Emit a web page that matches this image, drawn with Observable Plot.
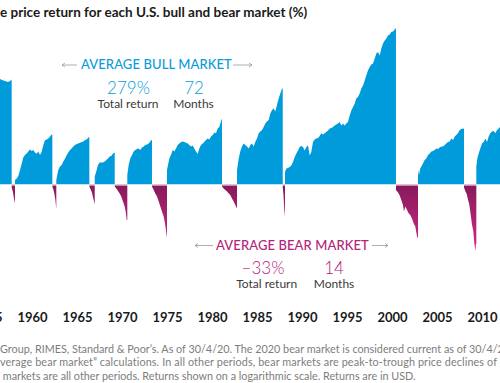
<!DOCTYPE html>
<html><head><meta charset="utf-8">
<script src="https://cdn.jsdelivr.net/npm/d3@7"></script>
<script src="https://cdn.jsdelivr.net/npm/@observablehq/plot@0.6"></script>
<style>
html,body{margin:0;padding:0;background:#fff;}
body{width:500px;height:383px;overflow:hidden;position:relative;font-family:Lato,"Open Sans",sans-serif;}
#title{position:absolute;left:0;top:5px;font-weight:700;font-size:13.5px;line-height:15px;color:#1a1a1a;white-space:nowrap;}
#chart{position:absolute;left:-20px;top:26px;width:520px;}
.ann{position:absolute;white-space:nowrap;transform:translate(-50%,-50%);line-height:1;}
.cap{font-size:13px;font-weight:500;letter-spacing:0.1px;}
.big{font-size:17px;font-weight:300;}
.sub{font-size:12px;color:#3a3a3a;}
.bull{color:#0a9bd9;}
.bear{color:#b3237a;}
#arrows{position:absolute;left:0;top:0;pointer-events:none;}
#notes{position:absolute;left:0;top:342px;font-size:10.8px;color:#7d7d7d;line-height:13.3px;white-space:nowrap;}
#notes .l2{letter-spacing:0.12px;}
</style></head><body>
<div id="title">e price return for each U.S. bull and bear market (%)</div>
<div id="chart"></div>
<div class="ann bull cap" style="left:156.5px;top:64px">AVERAGE BULL MARKET</div>
<div class="ann bull big" style="left:128.5px;top:86.5px">279%</div>
<div class="ann bull big" style="left:194px;top:86.5px">72</div>
<div class="ann sub" style="left:128px;top:104px">Total return</div>
<div class="ann sub" style="left:193.5px;top:104px">Months</div>
<div class="ann bear cap" style="left:292.5px;top:245px">AVERAGE BEAR MARKET</div>
<div class="ann bear big" style="left:263px;top:266.5px">–33%</div>
<div class="ann bear big" style="left:334px;top:266.5px">14</div>
<div class="ann sub" style="left:266.7px;top:284px">Total return</div>
<div class="ann sub" style="left:334px;top:284px">Months</div>
<svg id="arrows" width="500" height="383">
  <g stroke="#9a9a9a" stroke-width="0.8" fill="none">
    <line x1="62" y1="65" x2="77" y2="65"/><polyline points="65,63 62,65 65,67"/>
    <line x1="233" y1="65" x2="252" y2="65"/><polyline points="249,63 252,65 249,67"/>
    <line x1="195" y1="245.5" x2="213" y2="245.5"/><polyline points="198,243.5 195,245.5 198,247.5"/>
    <line x1="372" y1="245.5" x2="388" y2="245.5"/><polyline points="385,243.5 388,245.5 385,247.5"/>
  </g>
</svg>
<div id="notes">
<div>Group, RIMES, Standard &amp; Poor’s. As of 30/4/20. The 2020 bear market is considered current as of 30/4/20</div>
<div class="l2">verage bear market” calculations. In all other periods, bear markets are peak-to-trough price declines of</div>
<div>&nbsp;markets are all other periods. Returns shown on a logarithmic scale. Returns are in USD.</div>
</div>
<script>
// [year, cumulative price return %]
const bull_1949_1956 = [[1956.2,272],[1956.44,274],[1956.67,269],[1957.0,265],[1957.33,260],[1957.56,265],[1957.74,272]];
const bear_1956_1957 = [[1957.74,-3.7],[1957.84,-7.2],[1957.93,-11.8],[1958.02,-17.1],[1958.11,-21.1]];
const bull_1957_1961 = [[1958.11,5.8],[1958.3,7.8],[1958.48,11.2],[1958.67,19.9],[1958.86,30],[1959.03,40],[1959.22,44.6],[1959.41,47.3],[1959.59,51],[1959.78,55],[1959.97,52],[1960.14,54],[1960.33,49],[1960.52,47],[1960.7,51],[1960.89,44.6],[1961.08,51],[1961.26,64],[1961.44,74],[1961.63,75.5],[1961.81,78],[1962.0,82],[1962.19,87],[1962.26,86]];
const bear_1961_1962 = [[1962.26,-2.5],[1962.37,-6.1],[1962.48,-10.6],[1962.59,-17.1],[1962.7,-26.4]];
const bull_1962_1966 = [[1962.7,5.8],[1962.81,12.6],[1962.92,19.9],[1963.11,25.2],[1963.3,27.6],[1963.48,33.3],[1963.67,38.4],[1963.86,44.6],[1964.03,49.2],[1964.22,53.9],[1964.41,56.8],[1964.59,60.8],[1964.78,63.9],[1964.97,65.9],[1965.14,66.8],[1965.33,68.4],[1965.52,70.1],[1965.7,71],[1965.89,74.4],[1966.08,75.5],[1966.26,79.9],[1966.37,81]];
const bear_1966 = [[1966.37,-2.5],[1966.52,-6.1],[1966.66,-9.5],[1966.78,-15],[1966.89,-19.1],[1966.97,-22.1]];
const bull_1966_1968 = [[1966.97,10.5],[1967.14,17.6],[1967.33,27.6],[1967.52,31.7],[1967.7,31.7],[1967.89,31.7],[1968.08,33.3],[1968.26,35.9],[1968.44,38.4],[1968.63,41.9],[1968.81,42.8],[1969.0,47.3],[1969.19,49.2]];
const bear_1968_1970 = [[1969.19,-2.5],[1969.37,-4.9],[1969.56,-7.8],[1969.74,-10.6],[1969.92,-13.9],[1970.11,-19.1],[1970.3,-24],[1970.41,-28.6],[1970.52,-35.8],[1970.59,-35.8]];
const bull_1970_1973 = [[1970.59,12.6],[1970.74,27.6],[1970.92,38.4],[1971.11,44.6],[1971.3,51],[1971.48,53.9],[1971.67,55.9],[1971.86,56.8],[1972.03,53.9],[1972.22,58.8],[1972.41,60.8],[1972.59,63.9],[1972.78,64.9],[1972.97,66.8],[1973.14,71],[1973.26,74.4],[1973.33,74]];
const bear_1973_1974 = [[1973.33,-2.5],[1973.52,-6.6],[1973.7,-10.6],[1973.89,-13.9],[1974.08,-19.1],[1974.26,-24],[1974.44,-28.6],[1974.63,-33],[1974.74,-37],[1974.86,-42.3],[1974.97,-47.8],[1975.0,-47.8]];
const bull_1974_1980 = [[1975.0,19.9],[1975.11,27.6],[1975.26,38.4],[1975.44,44.6],[1975.63,53.9],[1975.81,51],[1976.0,56.8],[1976.19,63.9],[1976.37,66.8],[1976.56,70.1],[1976.74,71],[1976.92,70.1],[1977.11,68.4],[1977.3,66.8],[1977.48,63.9],[1977.67,60.8],[1977.86,62.8],[1978.03,56.8],[1978.22,51],[1978.41,46.4],[1978.59,56.8],[1978.78,63.9],[1978.97,66.8],[1979.14,70.1],[1979.33,74.4],[1979.52,77.7],[1979.7,75.5],[1979.89,82.2],[1980.08,85.9],[1980.26,91.6],[1980.44,89.7],[1980.63,101.4],[1980.81,105.4],[1981.0,119.8],[1981.11,128.2]];
const bear_1980_1982 = [[1981.11,-2.5],[1981.3,-4.9],[1981.48,-6.6],[1981.67,-8.4],[1981.86,-10.6],[1982.03,-12.3],[1982.22,-16],[1982.41,-19.1],[1982.59,-22.6],[1982.78,-25.9]];
const bull_1982_1987 = [[1982.78,19.9],[1982.97,38.4],[1983.14,51],[1983.33,60.8],[1983.52,66.8],[1983.7,63.9],[1983.89,60.8],[1984.08,56.8],[1984.26,63.9],[1984.44,66.8],[1984.63,60.8],[1984.81,70.1],[1985.0,77.7],[1985.19,89.7],[1985.37,93.9],[1985.56,97.6],[1985.74,105.4],[1985.92,114.4],[1986.11,119.8],[1986.3,124],[1986.48,142.9],[1986.67,153.7],[1986.86,158.6],[1987.03,149.1],[1987.22,170],[1987.41,193],[1987.59,211.9],[1987.78,232],[1987.86,232]];
const bear_1987 = [[1987.86,-3.7],[1987.94,-11.8],[1988.03,-26.8],[1988.11,-33.4]];
const bull_1987_2000 = [[1988.11,16.9],[1988.26,22.1],[1988.44,22.9],[1988.63,24.4],[1988.81,26.8],[1989.0,32.5],[1989.19,41],[1989.37,47.3],[1989.56,53],[1989.74,59.8],[1989.92,61.8],[1990.11,59.8],[1990.3,53],[1990.48,59.8],[1990.67,62.8],[1990.86,43.7],[1991.03,50.1],[1991.22,70.1],[1991.41,75.5],[1991.59,77.7],[1991.78,78.7],[1991.97,83.2],[1992.14,89.7],[1992.33,86.8],[1992.52,89.7],[1992.7,92.8],[1992.89,96.4],[1993.08,101.4],[1993.26,102.6],[1993.44,105.2],[1993.63,109],[1993.81,111.7],[1994.0,114.4],[1994.19,118.4],[1994.37,109],[1994.56,114.4],[1994.74,109],[1994.92,114.4],[1995.11,118.4],[1995.3,136.9],[1995.48,152.2],[1995.67,163.4],[1995.86,175.3],[1996.03,193],[1996.22,198.6],[1996.41,211.9],[1996.59,232],[1996.78,244.7],[1996.97,266.9],[1997.14,290.6],[1997.33,315.7],[1997.52,334.3],[1997.7,348.2],[1997.89,353.8],[1998.08,383.1],[1998.26,414.2],[1998.44,424],[1998.63,401.1],[1998.81,447.4],[1999.0,482.7],[1999.19,505],[1999.37,520.1],[1999.56,544.3],[1999.74,552.1],[1999.92,573.1],[2000.11,577.3],[2000.3,594.1],[2000.44,607.3]];
const bear_2000_2002 = [[2000.44,-6.6],[2000.67,-9.5],[2000.86,-12.8],[2001.03,-17.6],[2001.22,-22.6],[2001.33,-28.6],[2001.48,-24],[2001.67,-27.3],[2001.86,-30.4],[2002.03,-31.7],[2002.22,-34.6],[2002.41,-38.6],[2002.59,-40.8],[2002.78,-47.8],[2002.89,-49.1]];
const bull_2002_2007 = [[2002.89,19.9],[2003.0,12.6],[2003.14,22.1],[2003.26,25.2],[2003.44,30],[2003.63,35.9],[2003.81,38.4],[2004.0,44.6],[2004.19,47.3],[2004.37,51],[2004.56,52],[2004.74,53.9],[2004.92,56.8],[2005.11,55.9],[2005.3,58.8],[2005.48,60.8],[2005.67,60.8],[2005.86,63.9],[2006.03,66.8],[2006.22,70.1],[2006.41,71],[2006.59,77.7],[2006.78,74.4],[2006.97,82.2],[2007.14,85.9],[2007.33,89.7],[2007.52,97.6],[2007.7,100.3],[2007.89,101.4],[2008.0,101]];
const bear_2007_2009 = [[2008.0,-3.7],[2008.14,-7.8],[2008.3,-11.2],[2008.44,-17.1],[2008.59,-22.1],[2008.74,-31.3],[2008.89,-39.3],[2009.03,-44.1],[2009.14,-51.6],[2009.26,-56.5],[2009.33,-52.5],[2009.37,-52.5]];
const bull_2009_2020 = [[2009.37,25.2],[2009.48,38.4],[2009.63,47.3],[2009.81,56.8],[2010.0,66.8],[2010.19,70.1],[2010.37,77.7],[2010.56,70.1],[2010.74,82.2],[2010.92,89.7],[2011.11,93.9],[2011.3,95.3],[2011.48,89.7],[2011.67,97.6],[2011.86,101.4],[2012.0,105.4],[2012.1,106]];

const tickYears = [1955,1960,1965,1970,1975,1980,1985,1990,1995,2000,2005,2010];

const BLUE = "#009bdb";
const markets = [
  ["bull", bull_1949_1956], ["bear", bear_1956_1957], ["bull", bull_1957_1961], ["bear", bear_1961_1962],
  ["bull", bull_1962_1966], ["bear", bear_1966], ["bull", bull_1966_1968], ["bear", bear_1968_1970],
  ["bull", bull_1970_1973], ["bear", bear_1973_1974], ["bull", bull_1974_1980], ["bear", bear_1980_1982],
  ["bull", bull_1982_1987], ["bear", bear_1987], ["bull", bull_1987_2000], ["bear", bear_2000_2002],
  ["bull", bull_2002_2007], ["bear", bear_2007_2009], ["bull", bull_2009_2020]
];
const rows = [];
markets.forEach(([kind, pts], i) => pts.forEach(([year, pct]) => rows.push({seg: i, kind, year, factor: 1 + pct / 100})));
const bulls = rows.filter(d => d.kind === "bull");
const bears = rows.filter(d => d.kind === "bear");

const chart = Plot.plot({
  width: 520, height: 310,
  marginTop: 0, marginBottom: 40, marginLeft: 0, marginRight: 0,
  x: {domain: [1954.222, 2012]},
  y: {type: "log", domain: [0.2482, 7.252], axis: null},
  style: {fontFamily: "Lato, 'Open Sans', sans-serif", background: "transparent", maxWidth: "none", overflow: "visible"},
  marks: [
    Plot.areaY(bulls, {x: "year", y1: 1, y2: "factor", z: "seg", fill: BLUE, clip: true}),
    Plot.areaY(bears, {x: "year", y1: 1, y2: "factor", z: "seg", fill: "url(#bearGrad)", clip: true}),
    Plot.ruleY([1], {stroke: "white", strokeWidth: 1}),
    Plot.axisX({ticks: tickYears, tickFormat: d => String(d), tickSize: 0, tickPadding: 16, fontSize: 13, fontWeight: "bold", fill: "#1a1a1a", anchor: "bottom", label: null})
  ]
});
const ys = chart.scale("y");
const svg = d3.select(chart);
const grad = svg.insert("defs", ":first-child").append("linearGradient")
  .attr("id", "bearGrad").attr("gradientUnits", "userSpaceOnUse")
  .attr("x1", 0).attr("x2", 0).attr("y1", ys.apply(1)).attr("y2", ys.apply(0.44));
grad.append("stop").attr("offset", "0%").attr("stop-color", "#861a59");
grad.append("stop").attr("offset", "100%").attr("stop-color", "#d02a88");
document.getElementById("chart").append(chart);
</script>
</body></html>
